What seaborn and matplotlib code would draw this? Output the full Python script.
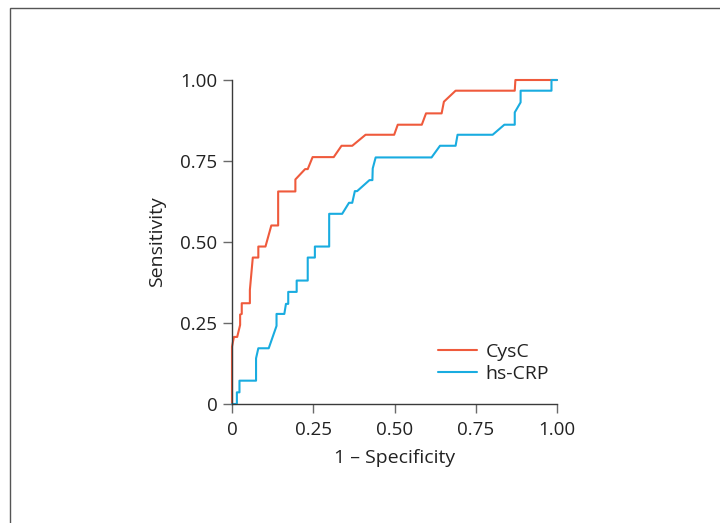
import matplotlib
matplotlib.use("Agg")
import matplotlib.pyplot as plt
import seaborn as sns
import pandas as pd
from matplotlib.patches import Rectangle

# ROC curve points
cysc_fpr = [0.0, 0.0, 0.006, 0.016, 0.025, 0.025, 0.030, 0.030, 0.055, 0.055, 0.064, 0.081, 0.081,
            0.103, 0.121, 0.142, 0.142, 0.195, 0.195, 0.225, 0.233, 0.248, 0.313, 0.337, 0.370,
            0.411, 0.499, 0.510, 0.584, 0.597, 0.645, 0.652, 0.688, 0.870, 0.872, 1.0]
cysc_tpr = [0.0, 0.177, 0.207, 0.207, 0.244, 0.276, 0.278, 0.311, 0.311, 0.352, 0.452, 0.452, 0.486,
            0.486, 0.551, 0.551, 0.656, 0.656, 0.693, 0.725, 0.725, 0.762, 0.762, 0.797, 0.797,
            0.831, 0.831, 0.862, 0.862, 0.897, 0.897, 0.933, 0.967, 0.967, 1.0, 1.0]

crp_fpr = [0.0, 0.015, 0.015, 0.023, 0.023, 0.074, 0.074, 0.081, 0.113, 0.137, 0.137, 0.161, 0.166,
           0.173, 0.173, 0.199, 0.199, 0.233, 0.233, 0.255, 0.255, 0.299, 0.299, 0.339, 0.360,
           0.370, 0.378, 0.385, 0.423, 0.432, 0.433, 0.442, 0.614, 0.640, 0.688, 0.694, 0.802,
           0.838, 0.870, 0.870, 0.888, 0.888, 0.983, 0.983, 1.0]
crp_tpr = [0.0, 0.0, 0.036, 0.036, 0.072, 0.072, 0.141, 0.172, 0.172, 0.241, 0.278, 0.278, 0.309,
           0.309, 0.346, 0.346, 0.381, 0.381, 0.452, 0.452, 0.486, 0.486, 0.587, 0.587, 0.621,
           0.621, 0.657, 0.657, 0.691, 0.691, 0.727, 0.761, 0.761, 0.797, 0.797, 0.831, 0.831,
           0.862, 0.862, 0.900, 0.931, 0.967, 0.967, 1.0, 1.0]

series_names = ["CysC", "hs-CRP"]
series_colors = ["#ef5a3c", "#19ace0"]
tick_values = [0, 0.25, 0.50, 0.75, 1.00]
tick_labels = ["0", "0.25", "0.50", "0.75", "1.00"]

df = pd.concat([
    pd.DataFrame({"fpr": cysc_fpr, "tpr": cysc_tpr, "marker": series_names[0]}),
    pd.DataFrame({"fpr": crp_fpr, "tpr": crp_tpr, "marker": series_names[1]}),
], ignore_index=True)

sns.set_style("white")
plt.rcParams["font.family"] = ["Open Sans", "DejaVu Sans"]

fig = plt.figure(figsize=(7.2, 5.23), dpi=100)
ax = fig.add_axes([232 / 720, 1 - 404 / 523, 325 / 720, 324 / 523])

sns.lineplot(data=df, x="fpr", y="tpr", hue="marker", palette=series_colors,
             hue_order=series_names, sort=False, estimator=None, linewidth=1.5,
             ax=ax, clip_on=False)

ax.set_xlim(0, 1)
ax.set_ylim(0, 1)
ax.set_xticks(tick_values)
ax.set_xticklabels(tick_labels)
ax.set_yticks(tick_values)
ax.set_yticklabels(tick_labels)
for s in ["top", "right"]:
    ax.spines[s].set_visible(False)
for s in ["left", "bottom"]:
    ax.spines[s].set_color("#3a3a3a")
    ax.spines[s].set_linewidth(1.0)
ax.tick_params(axis="both", direction="out", length=6.5, width=1.0, color="#6a6a6a",
               labelsize=13.5, labelcolor="#222222", left=True, bottom=True)
ax.tick_params(axis="x", pad=6)
ax.tick_params(axis="y", pad=4)
ax.set_xlabel("1 – Specificity", fontsize=14, color="#222222", labelpad=7)
ax.set_ylabel("Sensitivity", fontsize=14, color="#222222", labelpad=10)

leg = ax.legend(loc="upper left", bbox_to_anchor=(438 / 720, 1 - 343 / 523),
                bbox_transform=fig.transFigure, frameon=False, fontsize=14,
                handlelength=2.0, handletextpad=0.45, labelspacing=0.2, borderpad=0,
                borderaxespad=0)
for t in leg.get_texts():
    t.set_color("#222222")

fig.add_artist(Rectangle((10 / 720, -0.1), 1.2, 1 - 8 / 523 + 0.1, transform=fig.transFigure,
                         fill=False, edgecolor="#555555", linewidth=1.0))

fig.savefig("out.png", dpi=100)
